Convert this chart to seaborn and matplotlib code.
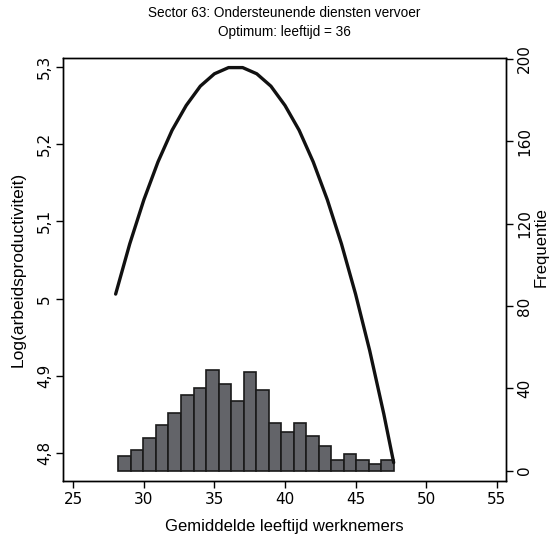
import numpy as np
import pandas as pd
import matplotlib
matplotlib.use("Agg")
import matplotlib.pyplot as plt
import seaborn as sns

# ---- data ----
bin_start = 28.2
bin_end = 47.7
counts = [7, 10, 16, 22, 28, 37, 40, 49, 42, 34, 48, 39, 23, 19, 23, 17, 12, 5, 8, 5, 3, 5]

curve_age = [28, 29, 30, 31, 32, 33, 34, 35, 36, 37, 38, 39, 40, 41, 42, 43, 44, 45, 46, 47, 47.7]
curve_logprod = [5.006, 5.071, 5.128, 5.177, 5.218, 5.250, 5.275, 5.291, 5.299, 5.299,
                 5.291, 5.275, 5.250, 5.218, 5.177, 5.128, 5.071, 5.006, 4.933, 4.851, 4.788]

x_ticks = [25, 30, 35, 40, 45, 50, 55]
left_ticks = [4.8, 4.9, 5.0, 5.1, 5.2, 5.3]
left_ticklabels = ["4,8", "4,9", "5", "5,1", "5,2", "5,3"]
right_ticks = [0, 40, 80, 120, 160, 200]

title = "Sector 63: Ondersteunende diensten vervoer\nOptimum: leeftijd = 36"
xlabel = "Gemiddelde leeftijd werknemers"
ylabel_left = "Log(arbeidsproductiviteit)"
ylabel_right = "Frequentie"

# ---- style ----
sns.set_style("ticks")
plt.rcParams["font.family"] = ["DejaVu Sans"]
for k in ("text.color", "axes.labelcolor", "xtick.color", "ytick.color", "axes.edgecolor"):
    plt.rcParams[k] = "black"

LAB = ["Liberation Sans", "DejaVu Sans"]

fig = plt.figure(figsize=(5.59, 5.41), dpi=100)
ax = fig.add_axes([0.1132, 0.1115, 0.9047 - 0.1132, 0.8922 - 0.1115])
ax2 = ax.twinx()

# histogram on right axis
nb = len(counts)
width = (bin_end - bin_start) / nb
centers = [bin_start + width * (i + 0.5) for i in range(nb)]
hist_df = pd.DataFrame({"age": centers, "n": counts})
sns.histplot(data=hist_df, x="age", weights="n", bins=nb, binrange=(bin_start, bin_end),
             ax=ax2, color="#636469", alpha=1.0, edgecolor="#1a1a1a", linewidth=1.2)

# curve on left axis
curve_df = pd.DataFrame({"age": curve_age, "y": curve_logprod})
sns.lineplot(data=curve_df, x="age", y="y", ax=ax, color="#111111", linewidth=2.4)

ax.set_zorder(ax2.get_zorder() + 1)
ax.patch.set_visible(False)

ax.set_xlim(24.29, 55.64)
ax.set_ylim(4.7646, 5.311)
ax2.set_ylim(-4.86, 200.3)

ax.set_xticks(x_ticks)
ax.set_xticklabels([str(t) for t in x_ticks], fontsize=11)
ax.set_yticks(left_ticks)
ax.set_yticklabels(left_ticklabels, rotation=90, va="center", fontsize=11)
ax2.set_yticks(right_ticks)
ax2.set_yticklabels([str(t) for t in right_ticks], rotation=90, va="center", fontsize=11)

for a in (ax, ax2):
    a.tick_params(direction="out", length=5, width=1, color="black", pad=3)
    for s in a.spines.values():
        s.set_visible(True)
        s.set_color("black")
        s.set_linewidth(1.0)

ax.set_xlabel(xlabel, fontsize=12, family=LAB, labelpad=9)
ax.set_ylabel(ylabel_left, fontsize=12.5, family=LAB, labelpad=8)
ax2.set_ylabel(ylabel_right, fontsize=12, family=LAB)
ax2.yaxis.set_label_coords(1.064, 0.553)
ax.set_title(title, fontsize=9.8, family=LAB, pad=16, linespacing=1.5)

fig.savefig("out.png", dpi=100)
